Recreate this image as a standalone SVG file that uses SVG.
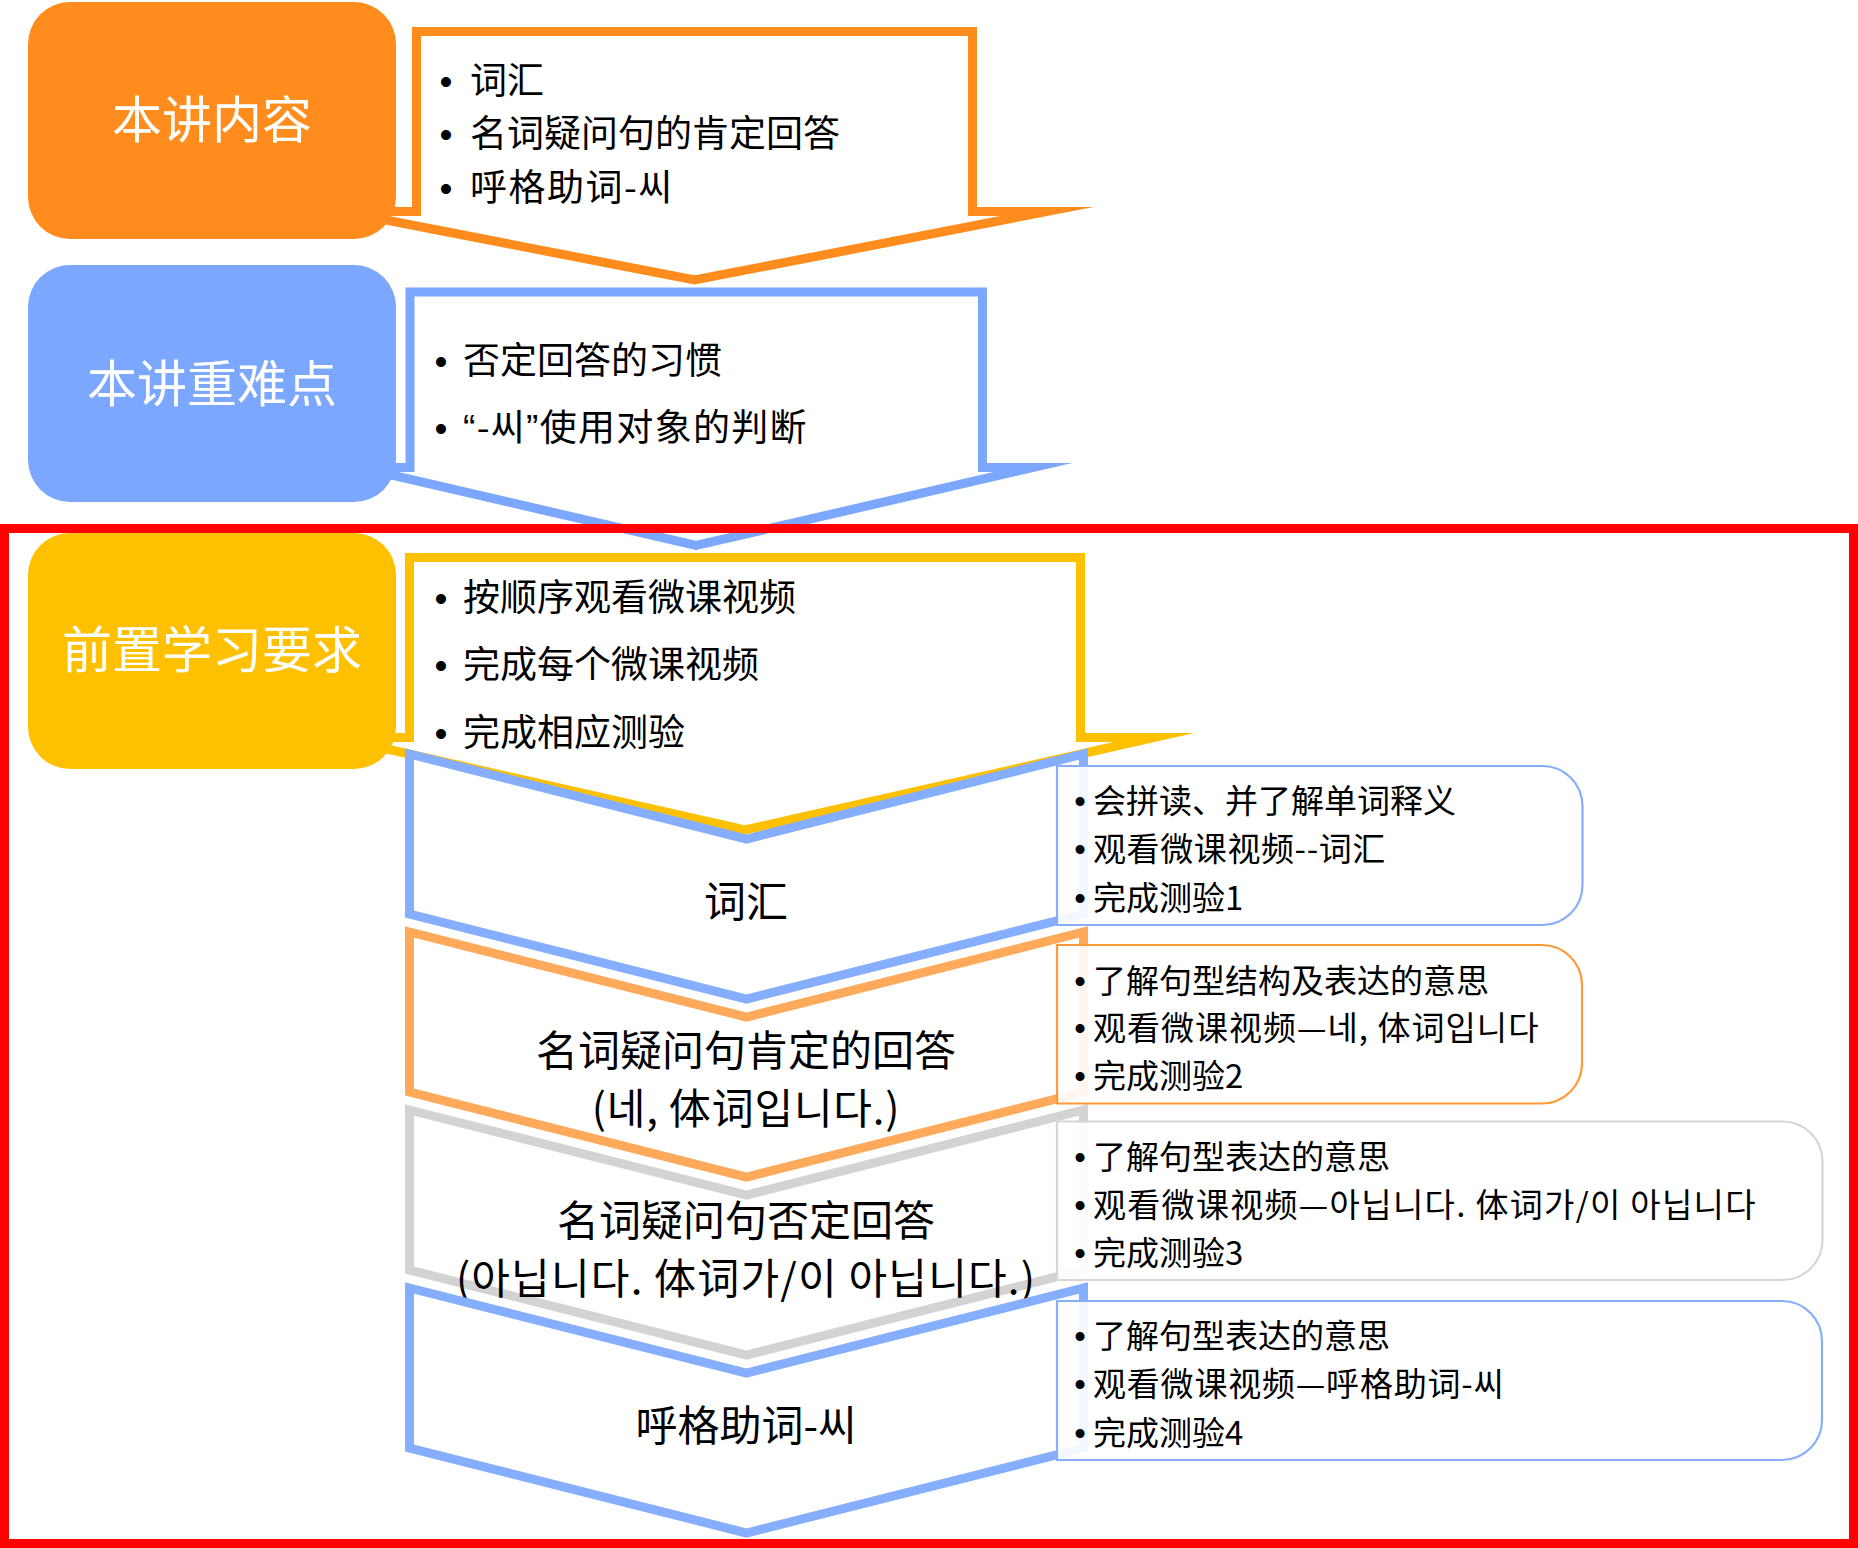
<svg xmlns="http://www.w3.org/2000/svg" width="1858" height="1548" viewBox="0 0 1858 1548">
<style>
text{font-family:"Noto Sans CJK SC","Noto Sans CJK KR",sans-serif;fill:#000}
.lab{font-size:50px;fill:#fff;text-anchor:middle}
.t37{font-size:37px}
.t42{font-size:42px;text-anchor:middle}
.t33{font-size:33px}
.bul{font-family:"Liberation Sans",sans-serif;text-anchor:middle}
.q{font-family:"Liberation Sans",sans-serif}
.chev{fill:#fff;stroke-width:9;stroke-miterlimit:20;stroke-linejoin:miter}
.side{fill:#fff;fill-opacity:0.9;stroke-width:2.2}
</style>
<rect width="1858" height="1548" fill="#fff"/>

<g id="content-list">
<polygon class="chev" stroke="#FF8C1C" points="416.5,31.5 972.5,31.5 972.5,211.5 1047,211.5 694.5,280 342,211.5 416.5,211.5"/>
<text class="bul t37" x="446" y="94">•</text><text class="t37" x="470" y="94">词汇</text>
<text class="bul t37" x="446" y="147">•</text><text class="t37" x="470" y="147">名词疑问句的肯定回答</text>
<text class="bul t37" x="446" y="201">•</text><text class="t37" x="470" y="201" letter-spacing="1.5">呼格助词-씨</text>
</g>
<g id="content">
<rect x="28" y="2" width="368" height="237" rx="42" fill="#FF8C1C"/>
<text class="lab" x="212" y="138">本讲内容</text>
</g>

<g id="keypoints-list">
<polygon class="chev" stroke="#7BA7FF" points="410,292 982.5,292 982.5,467.5 1033,467.5 696,545.5 359,467.5 410,467.5"/>
<text class="bul t37" x="441" y="374">•</text><text class="t37" x="463" y="374">否定回答的习惯</text>
<text class="bul t37" x="441" y="441">•</text><text class="t37" x="463" y="441" letter-spacing="1.3"><tspan class="q">“</tspan>-씨<tspan class="q">”</tspan>使用对象的判断</text>
</g>
<g id="keypoints">
<rect x="28" y="265" width="368" height="237" rx="42" fill="#7BA7FF"/>
<text class="lab" x="212" y="402">本讲重难点</text>
</g>

<g id="prereq-list">
<polygon class="chev" stroke="#FFC000" points="409.5,557.5 1080.5,557.5 1080.5,737.5 1154,737.5 745,830 336,737.5 409.5,737.5"/>
<text class="bul t37" x="441" y="611">•</text><text class="t37" x="463" y="611">按顺序观看微课视频</text>
<text class="bul t37" x="441" y="678">•</text><text class="t37" x="463" y="678">完成每个微课视频</text>
<text class="bul t37" x="441" y="746">•</text><text class="t37" x="463" y="746">完成相应测验</text>
</g>
<g id="prereq">
<rect x="28" y="533" width="368" height="236" rx="42" fill="#FFC000"/>
<text class="lab" x="212" y="668">前置学习要求</text>
</g>

<g id="step-vocab">
<polygon class="chev" stroke="#86AEFF" points="409.5,754 746.5,839 1083.5,754 1083.5,914 746.5,999 409.5,914"/>
<text class="t42" x="746" y="917">词汇</text>
</g>
<g id="step-affirm">
<polygon class="chev" stroke="#FFAA5A" points="409.5,932 746.5,1017 1083.5,932 1083.5,1092 746.5,1177 409.5,1092"/>
<text class="t42" x="746" y="1066">名词疑问句肯定的回答</text>
<text class="t42" x="746" y="1124" letter-spacing="0.8">(네, 体词입니다.)</text>
</g>
<g id="step-negate">
<polygon class="chev" stroke="#D3D3D3" points="409.5,1110 746.5,1195 1083.5,1110 1083.5,1270 746.5,1355 409.5,1270"/>
<text class="t42" x="746" y="1236">名词疑问句否定回答</text>
<text class="t42" x="746" y="1294" letter-spacing="1.2">(아닙니다. 体词가/이 아닙니다.)</text>
</g>
<g id="step-vocative">
<polygon class="chev" stroke="#86AEFF" points="409.5,1288 746.5,1373 1083.5,1288 1083.5,1448 746.5,1533 409.5,1448"/>
<text class="t42" x="746" y="1441">呼格助词-씨</text>
</g>

<g id="detail-vocab">
<path class="side" stroke="#88AEF8" d="M1057,766 H1542.5 A40,40 0 0 1 1582.5,806 V885 A40,40 0 0 1 1542.5,925 H1057 Z"/>
<text class="bul t33" x="1080" y="813">•</text><text class="t33" x="1093" y="813">会拼读、并了解单词释义</text>
<text class="bul t33" x="1080" y="861">•</text><text class="t33" x="1093" y="861" letter-spacing="0.6">观看微课视频--词汇</text>
<text class="bul t33" x="1080" y="910">•</text><text class="t33" x="1093" y="910">完成测验1</text>
</g>
<g id="detail-affirm">
<path class="side" stroke="#FF9A36" d="M1057,945 H1542 A40,40 0 0 1 1582,985 V1063.5 A40,40 0 0 1 1542,1103.5 H1057 Z"/>
<text class="bul t33" x="1080" y="993">•</text><text class="t33" x="1093" y="993">了解句型结构及表达的意思</text>
<text class="bul t33" x="1080" y="1040">•</text><text class="t33" x="1093" y="1040" letter-spacing="1">观看微课视频—네, 体词입니다</text>
<text class="bul t33" x="1080" y="1088">•</text><text class="t33" x="1093" y="1088">完成测验2</text>
</g>
<g id="detail-negate">
<path class="side" stroke="#D6D6D6" d="M1057,1121.5 H1782.5 A40,40 0 0 1 1822.5,1161.5 V1240 A40,40 0 0 1 1782.5,1280 H1057 Z"/>
<text class="bul t33" x="1080" y="1169">•</text><text class="t33" x="1093" y="1169">了解句型表达的意思</text>
<text class="bul t33" x="1080" y="1217">•</text><text class="t33" x="1093" y="1217" letter-spacing="1.3">观看微课视频—아닙니다. 体词가/이 아닙니다</text>
<text class="bul t33" x="1080" y="1265">•</text><text class="t33" x="1093" y="1265">完成测验3</text>
</g>
<g id="detail-vocative">
<path class="side" stroke="#88AEF8" d="M1057,1301 H1782 A40,40 0 0 1 1822,1341 V1420 A40,40 0 0 1 1782,1460 H1057 Z"/>
<text class="bul t33" x="1080" y="1348">•</text><text class="t33" x="1093" y="1348">了解句型表达的意思</text>
<text class="bul t33" x="1080" y="1396">•</text><text class="t33" x="1093" y="1396" letter-spacing="0.8">观看微课视频—呼格助词-씨</text>
<text class="bul t33" x="1080" y="1445">•</text><text class="t33" x="1093" y="1445">完成测验4</text>
</g>

<g id="connectors"></g>

<g id="highlight">
<rect x="4.5" y="528.5" width="1849" height="1015" fill="none" stroke="#FF0000" stroke-width="9"/>
</g>
</svg>
